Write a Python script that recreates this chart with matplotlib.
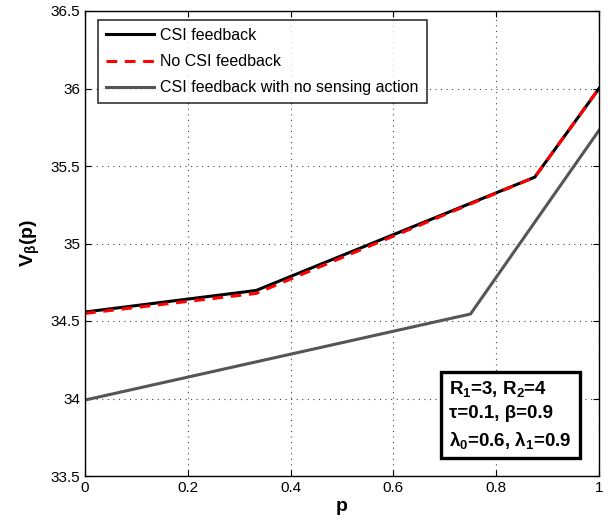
import matplotlib
matplotlib.use("Agg")
import matplotlib.pyplot as plt

plt.rcParams['font.family'] = ['Liberation Sans', 'DejaVu Sans']
plt.rcParams['mathtext.fontset'] = 'custom'
plt.rcParams['mathtext.rm'] = 'Liberation Sans'
plt.rcParams['mathtext.bf'] = 'Liberation Sans:bold'
plt.rcParams['mathtext.default'] = 'bf'

# data
p_csi = [0, 0.333, 0.875, 1]
v_csi = [34.558, 34.697, 35.428, 36.0]

p_nocsi = [0, 0.333, 0.875, 1]
v_nocsi = [34.549, 34.678, 35.428, 36.0]

p_nosense = [0, 0.75, 1]
v_nosense = [33.99, 34.545, 35.73]

xticks = [0, 0.2, 0.4, 0.6, 0.8, 1]
xticklabels = ['0', '0.2', '0.4', '0.6', '0.8', '1']
yticks = [33.5, 34, 34.5, 35, 35.5, 36, 36.5]
yticklabels = ['33.5', '34', '34.5', '35', '35.5', '36', '36.5']

fig = plt.figure(figsize=(6.12, 5.25), dpi=100)
ax = fig.add_axes([85 / 612, 1 - 476 / 525, 514 / 612, 465 / 525])

ax.plot(p_csi, v_csi, '-', color='black', lw=2.2, label='CSI feedback')
ax.plot(p_nocsi, v_nocsi, '--', color='red', lw=2.2, dashes=(3.5, 2.5), label='No CSI feedback')
ax.plot(p_nosense, v_nosense, '-', color='#555555', lw=2.2, label='CSI feedback with no sensing action')

ax.set_xlim(0, 1)
ax.set_ylim(33.5, 36.5)
ax.set_xticks(xticks)
ax.set_xticklabels(xticklabels)
ax.set_yticks(yticks)
ax.set_yticklabels(yticklabels)
ax.tick_params(direction='in', labelsize=11, length=4, top=True, right=True)
ax.grid(True, linestyle=(0, (1, 4)), color='#444444', lw=0.8)
for s in ax.spines.values():
    s.set_linewidth(1.0)

ax.set_xlabel('p', fontsize=14, fontweight='bold', labelpad=2)
ax.set_ylabel(r'V$_{β}$(p)', fontsize=14, fontweight='bold', labelpad=6)

leg = ax.legend(loc='upper left', fontsize=11.5, frameon=True, fancybox=False,
                edgecolor='black', borderpad=0.5, handlelength=3.0, handletextpad=0.4,
                bbox_to_anchor=(13 / 514, 1 - 9 / 465), labelspacing=0.7, borderaxespad=0)
leg.get_frame().set_linewidth(1.2)

ax.text((442 - 85) / 514 + 0.014, (476 - 415) / 465,
        'R$_1$=3, R$_2$=4\nτ=0.1, β=0.9\nλ$_0$=0.6, λ$_1$=0.9',
        transform=ax.transAxes, fontsize=13.5, fontweight='bold', va='center', ha='left',
        linespacing=1.45,
        bbox=dict(boxstyle='square,pad=0.42', facecolor='white', edgecolor='black', lw=2.4))

fig.savefig('out.png', dpi=100)
